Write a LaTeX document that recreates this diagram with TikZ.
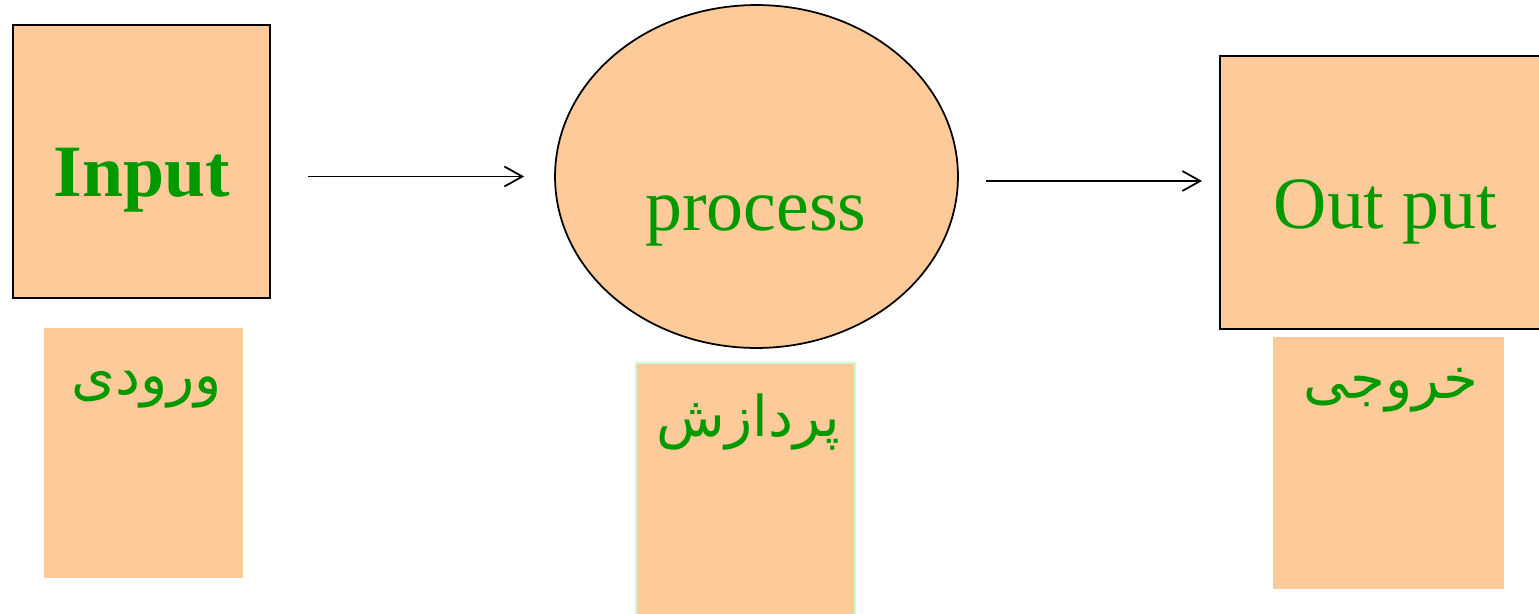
\documentclass[tikz,border=0pt]{standalone}
\usepackage{fontspec}
\setmainfont{Liberation Serif}
\newfontfamily\arabicfont[Script=Arabic]{DejaVu Sans}
\TeXXeTstate=1
\usepackage{xcolor}
\usetikzlibrary{arrows.meta,shapes.geometric}
\definecolor{peach}{HTML}{FCCB99}
\definecolor{txtgreen}{HTML}{009900}
\definecolor{palegreen}{HTML}{CCFFCC}

\begin{document}
\begin{tikzpicture}[
      x=0.02cm, y=-0.02cm, >={Straight Barb[length=3.6mm,width=4mm]},
      block/.style={rectangle, draw=black, line width=1.1pt, fill=peach, minimum width=5.14cm, minimum height=5.46cm},
      tag/.style={rectangle, fill=peach, minimum width=4.2cm, minimum height=5.04cm},
      word/.style={text=txtgreen, font=\fontsize{42}{50}\selectfont, anchor=base, inner sep=0pt},
      farsi/.style={text=txtgreen, font=\arabicfont\fontsize{32}{38}\selectfont, anchor=base, inner sep=0pt},
      flow/.style={->, line width=1pt}]
      \useasboundingbox (0,0) rectangle (1539,613);

      % Nodes
      \node[block] (inbox) at (141.5,161.5) {};
      \node[ellipse, draw=black, line width=1pt, fill=peach, minimum width=8.06cm, minimum height=6.86cm] (proc) at (756.5,176.5) {};
      \node[block, minimum width=6.42cm] (outbox) at (1380.5,192.5) {};

      \node[tag, minimum width=3.98cm, minimum height=5.0cm] (intag) at (143.5,453) {};
      \node[tag, draw=palegreen, line width=1pt, minimum width=4.38cm] (proctag) at (745.5,489) {};
      \node[tag, minimum width=4.62cm] (outtag) at (1388.5,463) {};

      % Texts
      \node[word, font=\bfseries\fontsize{42}{50}\selectfont] (intext) at (141.5,196) {Input};
      \node[word] (proctext) at (756,230) {process};
      \node[word] (outtext) at (1385.5,228) {Out put};
      \node[farsi] (infa) at (146.5,394) {\beginR ورودی\endR};
      \node[farsi] (procfa) at (748.5,436) {\beginR پردازش\endR};
      \node[farsi] (outfa) at (1391,398) {\beginR خروجی\endR};

      % Edges
      \draw[flow, shorten <=0.74cm, shorten >=0.6cm] (inbox.east |- proc.west) -- (proc.west);
      \draw[flow, shorten <=0.54cm, shorten >=0.34cm] ([yshift=-0.09cm]proc.east) -- ([yshift=-0.09cm]outbox.west |- proc.east);

\end{tikzpicture}
\end{document}
